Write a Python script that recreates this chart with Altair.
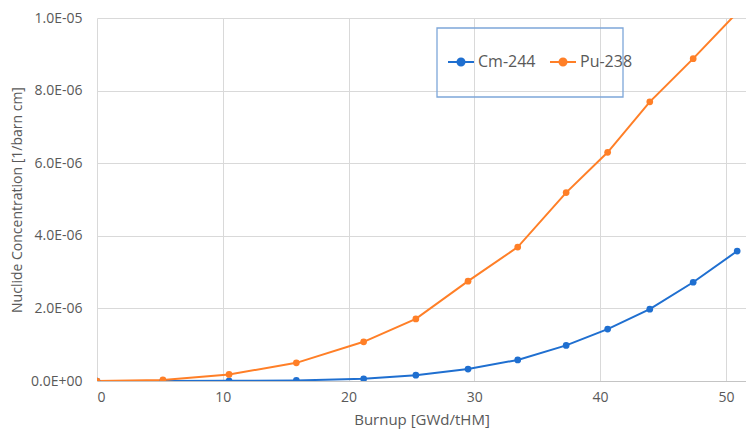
import altair as alt
import pandas as pd

burnup = [0, 5.24, 10.5, 15.85, 21.2, 25.35, 29.5, 33.45, 37.3, 40.6, 43.95, 47.4, 50.9]
cm244 = [0, 0.002e-6, 0.005e-6, 0.015e-6, 0.06e-6, 0.16e-6, 0.33e-6, 0.58e-6, 0.98e-6, 1.43e-6, 1.98e-6, 2.72e-6, 3.58e-6]
pu238 = [0, 0.03e-6, 0.18e-6, 0.50e-6, 1.08e-6, 1.71e-6, 2.75e-6, 3.69e-6, 5.19e-6, 6.30e-6, 7.69e-6, 8.88e-6, 10.15e-6]
series = ["Cm-244", "Pu-238"]
colors = ["#1f6fd0", "#ff7f27"]
x_ticks = [0, 10, 20, 30, 40, 50]
y_ticks = [0, 2e-6, 4e-6, 6e-6, 8e-6, 1e-5]

rows = []
for name, vals in zip(series, [cm244, pu238]):
    for b, v in zip(burnup, vals):
        rows.append({"burnup": b, "conc": v, "nuclide": name})
df = pd.DataFrame(rows)

FONT = "Open Sans"
GREY = "#595959"

label_expr = (
    "datum.value == 0 ? '0.0E+00' : "
    "format(datum.value / pow(10, floor(log(datum.value)/LN10 + 1e-9)), '.1f') + 'E-0' + "
    "toString(-floor(log(datum.value)/LN10 + 1e-9))"
)

x_enc = alt.X(
    "burnup:Q",
    scale=alt.Scale(domain=[0, 51.6], nice=False),
    axis=alt.Axis(
        values=x_ticks, title="Burnup [GWd/tHM]", grid=True, ticks=False,
        domain=True, domainColor="#c4c4c4", domainWidth=1,
        labelPadding=9, titlePadding=8,
    ),
)
y_enc = alt.Y(
    "conc:Q",
    scale=alt.Scale(domain=[0, 1e-5], nice=False),
    axis=alt.Axis(
        values=y_ticks, title="Nuclide Concentration [1/barn cm]", grid=True,
        ticks=False, domain=False, labelExpr=label_expr, labelPadding=15,
        titlePadding=6, titleFontSize=14,
    ),
)
color_scale = alt.Scale(domain=series, range=colors)

legend_path = "M-1,0H1M0.27,0A0.27,0.27,0,1,1,-0.27,0A0.27,0.27,0,1,1,0.27,0Z"
legend = alt.Legend(
    title=None, orient="none", legendX=350, legendY=30,
    direction="horizontal", symbolType=legend_path, symbolSize=676,
    symbolStrokeWidth=2, labelFontSize=16, labelFont=FONT,
    labelColor=GREY, columnPadding=10, labelOffset=3, padding=0,
)

lines = alt.Chart(df).mark_line(strokeWidth=2, clip=True).encode(
    x=x_enc, y=y_enc,
    color=alt.Color("nuclide:N", scale=color_scale, legend=legend),
)

points = alt.Chart(df).mark_point(filled=True, size=45, opacity=1, clip=True).encode(
    x=x_enc, y=y_enc,
    color=alt.Color("nuclide:N", scale=color_scale, legend=legend),
    order=alt.Order("nuclide:N"),
)

legend_box = alt.Chart(alt.Data(values=[{"b": 1}])).mark_rect(
    fill=None, filled=False, stroke="#7da7d9", strokeWidth=1.3
).encode(
    x=alt.value(340), x2=alt.value(526), y=alt.value(10), y2=alt.value(79)
)

chart = alt.layer(lines, points, legend_box).properties(
    width=649, height=363,
    autosize=alt.AutoSizeParams(type="none"),
    padding={"left": 89, "top": 10, "right": 0, "bottom": 55},
).configure_view(stroke=None).configure_axis(
    labelFont=FONT, labelFontSize=14, labelColor=GREY,
    titleFont=FONT, titleFontSize=15, titleFontWeight="normal", titleColor=GREY,
    gridColor="#d9d9d9", gridWidth=1,
)

chart.save("out.html", embed_options={"renderer": "svg", "actions": False})
